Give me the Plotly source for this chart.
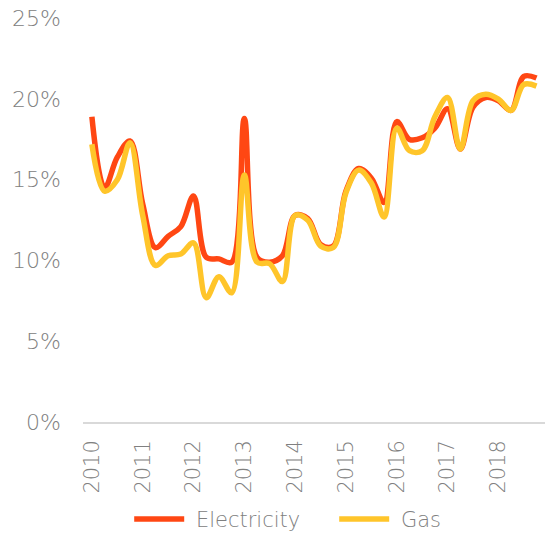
import plotly.graph_objects as go

quarters = list(range(36))
year_ticks = [0, 4, 8, 12, 16, 20, 24, 28, 32]
year_labels = ["2010", "2011", "2012", "2013", "2014", "2015", "2016", "2017", "2018"]

electricity = [18.9, 14.5, 16.4, 17.4, 13.5, 10.8, 11.5, 12.1, 14.0, 10.2, 10.1, 9.9,
               18.8, 10.2, 9.9, 10.3, 12.8, 12.6, 11.0, 10.9, 14.3, 15.7, 15.1, 13.6,
               18.6, 17.5, 17.6, 18.2, 19.4, 16.9, 19.5, 20.1, 19.9, 19.3, 21.4, 21.3]
gas = [17.2, 14.3, 15.0, 17.3, 12.8, 9.7, 10.3, 10.4, 11.1, 7.7, 9.0, 8.0,
       15.3, 9.9, 9.8, 8.7, 12.8, 12.5, 10.9, 10.8, 14.2, 15.6, 14.8, 12.7,
       18.2, 16.8, 16.8, 18.9, 20.1, 16.9, 19.9, 20.3, 20.0, 19.3, 20.9, 20.8]

y_ticks = [0, 5, 10, 15, 20, 25]
y_labels = ["0%", "5%", "10%", "15%", "20%", "25%"]
series_names = ["\u00a0Electricity", "\u00a0Gas"]

FONT = "DejaVu Sans ExtraLight, DejaVu Sans, sans-serif"
GREY = "#808080"

fig = go.Figure()
fig.add_trace(go.Scatter(x=quarters, y=electricity, name=series_names[0], mode="lines",
                         line=dict(color="#FF4713", width=5.5, shape="spline", smoothing=1)))
fig.add_trace(go.Scatter(x=quarters, y=gas, name=series_names[1], mode="lines",
                         line=dict(color="#FFC52A", width=5.5, shape="spline", smoothing=1)))

fig.update_layout(
    width=545, height=541,
    margin=dict(l=83, r=0, t=18, b=119, autoexpand=False),
    paper_bgcolor="white", plot_bgcolor="white",
    font=dict(family=FONT, color=GREY, size=22, weight=200),
    showlegend=True,
    legend=dict(orientation="h", x=0.10, xanchor="left", xref="paper",
                y=-0.19, yanchor="top", itemwidth=50,
                entrywidth=140, entrywidthmode="pixels",
                font=dict(family=FONT, size=21, color=GREY, weight=200),
                traceorder="normal"),
)
fig.update_xaxes(range=[-0.7, 35.67], tickmode="array", tickvals=year_ticks,
                 ticktext=year_labels, tickangle=-90, showgrid=False, zeroline=False,
                 showline=True, linecolor="#d9d9d9", linewidth=1.5, ticks="",
                 automargin=False,
                 tickfont=dict(family=FONT, size=21, color=GREY, weight=200), ticklabelstandoff=8)
fig.update_yaxes(range=[0, 25.02], tickmode="array", tickvals=y_ticks, ticktext=y_labels,
                 showgrid=False, zeroline=False, showline=False, ticks="",
                 automargin=False,
                 tickfont=dict(family=FONT, size=22, color=GREY, weight=200), ticklabelstandoff=21)

# remove the browser's default 8px body margin so the figure sits at the page origin
fig.write_html("out.html", config={"displayModeBar": False},
               post_script="document.body.style.margin='0px';")
